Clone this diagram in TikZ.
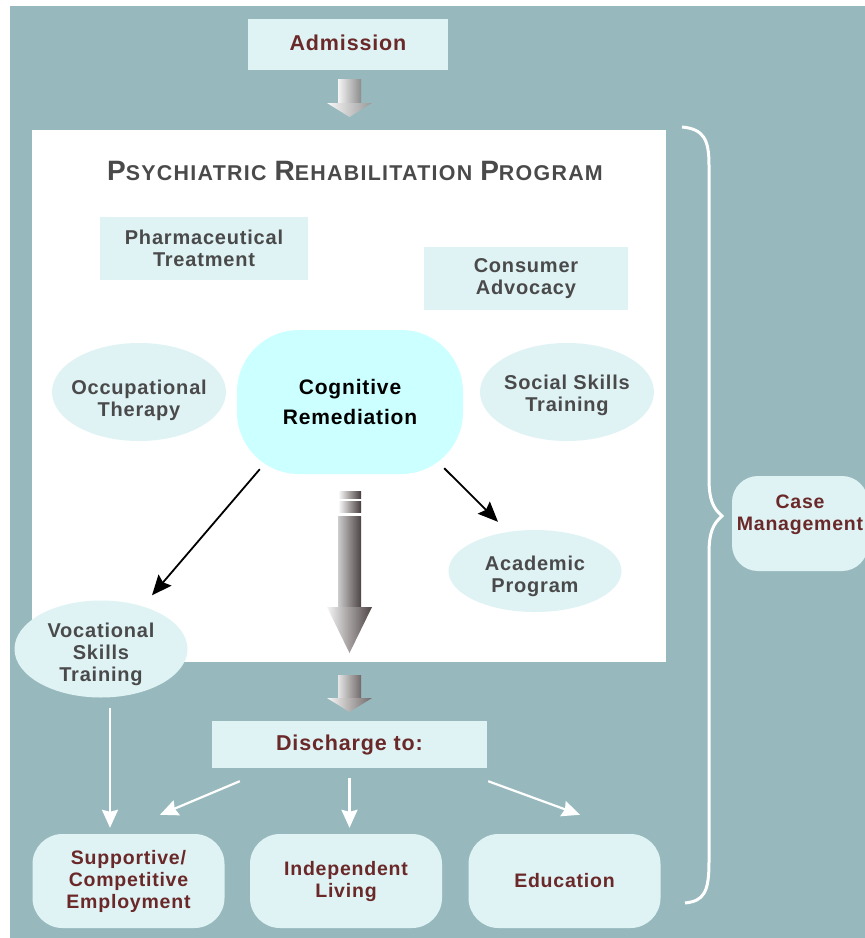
\documentclass[tikz,border=0pt]{standalone}
\usepackage{fontspec}
\setmainfont{Liberation Sans}
\newfontfamily\labfont[LetterSpace=4]{Liberation Sans}
\newfontfamily\titlefont[LetterSpace=6]{Liberation Sans}
\usetikzlibrary{shapes.geometric,arrows.meta}
\definecolor{bgteal}{HTML}{97B9BD}
\definecolor{paleblue}{HTML}{DFF2F4}
\definecolor{cogcyan}{HTML}{CCFFFF}
\definecolor{darkmaroon}{HTML}{6A2828}
\definecolor{labgray}{HTML}{4A4A4A}
\definecolor{arrdark}{HTML}{4E4444}
\newcommand\scword[2]{{\fontsize{28}{30}\selectfont#1}{\fontsize{21.4}{30}\selectfont#2}}
\tikzset{
  box/.style={fill=paleblue,inner sep=0pt,align=center,text=labgray,font=\labfont\bfseries\fontsize{20}{22}\selectfont},
  redtext/.style={text=darkmaroon,font=\labfont\bfseries\fontsize{21.5}{22}\selectfont},
  oval/.style={ellipse,fill=paleblue,inner sep=0pt},
  lab/.style={align=center,yshift=-5pt,text=labgray,font=\labfont\bfseries\fontsize{20}{22}\selectfont},
  rbox/.style={box,redtext,rounded corners=30pt,minimum width=192pt,minimum height=94pt,font=\labfont\bfseries\fontsize{19.5}{22}\selectfont},
  blk/.style={-{Stealth[length=20pt,width=17pt,inset=3pt]},line width=1.8pt},
  wht/.style={white,-{Stealth[length=18pt,width=16pt,inset=2pt]},line width=2.2pt},
}
\begin{document}
\begin{tikzpicture}[x=1pt,y=-1pt]
\useasboundingbox (0,0) rectangle (865,938);
\fill[bgteal] (10,6) rectangle (865,938);
\fill[white] (32,130) rectangle (666,662);
%
\node[box,redtext,minimum width=200pt,minimum height=51pt] (adm) at (348,44.5) {\raisebox{3pt}{Admission}};
\node[text=labgray,font=\titlefont\bfseries] (title) at (355,171) {\scword{P}{SYCHIATRIC}\hspace{8pt}\scword{R}{EHABILITATION}\hspace{8pt}\scword{P}{ROGRAM}};
\node[box,minimum width=208pt,minimum height=63pt] (pharm) at (204,248.5) {Pharmaceutical\\Treatment};
\node[box,minimum width=204pt,minimum height=63pt] (cons) at (526,278.5) {Consumer\\Advocacy};
\node[oval,minimum width=174pt,minimum height=98pt,label={[lab,yshift=-3pt]center:Occupational\\Therapy}] (occ) at (139,392) {};
\node[fill=cogcyan,rounded corners=62pt,minimum width=226pt,minimum height=144pt,align=center,font=\labfont\bfseries\fontsize{21}{30}\selectfont] (cog) at (350,402) {Cognitive\\Remediation};
\node[oval,minimum width=174pt,minimum height=98pt,label={[lab,yshift=2pt]center:Social Skills\\Training}] (soc) at (567,392) {};
\node[oval,minimum width=173pt,minimum height=82pt,label={[lab]center:Academic\\Program}] (acad) at (535,571) {};
\node[oval,minimum width=173pt,minimum height=97pt,label={[lab]center:Vocational\\Skills\\Training}] (voc) at (101,649) {};
%
\node[box,redtext,minimum width=275pt,minimum height=47pt] (dis) at (349.5,744.5) {Discharge to:};
\node[rbox] (sup) at (128.5,881) {Supportive/\\Competitive\\Employment};
\node[rbox] (ind) at (346,881) {Independent\\Living};
\node[rbox] (edu) at (564.5,881) {Education};
\node[box,rounded corners=26pt,minimum width=136pt,minimum height=95pt,label={[redtext,align=center,yshift=9pt,font=\labfont\bfseries\fontsize{19.5}{22}\selectfont]center:Case\\Management}] (case) at (800,523.5) {};
%
\shade[left color=gray!8,right color=gray!90] (338,79) rectangle (361,103);
\shade[left color=gray!5,right color=gray!80] (327,103) -- (372,103) -- (349.5,117) -- cycle;
\shade[left color=white,right color=arrdark!90!black] (338,491) rectangle (361,498);
\shade[left color=white,right color=arrdark!90!black] (338,501) rectangle (361,512);
\shade[left color=gray!40,right color=arrdark] (338,516) rectangle (361,607);
\shade[left color=gray!8,right color=arrdark] (327,607) -- (372,607) -- (349.5,653) -- cycle;
\shade[left color=gray!20,right color=arrdark!80] (338,675) rectangle (361,698);
\shade[left color=gray!5,right color=arrdark!80] (327,698) -- (372,698) -- (349.5,712) -- cycle;
%
\draw[blk] ([shift={(23,-5)}]cog.south west) -- ([shift={(51,-5)}]voc.north);
\draw[blk] ([shift={(-19,-6)}]cog.south east) -- ([shift={(-37,-8)}]acad.north);
\draw[wht] ([shift={(9,10)}]voc.south) -- ([shift={(-18.5,-6)}]sup.north);
\draw[wht] ([shift={(28,13)}]dis.south west) -- ([shift={(31.5,-19)}]sup.north);
\draw[wht] ([shift={(0,10)}]dis.south) -- ([shift={(3.5,-6)}]ind.north);
\draw[wht] ([shift={(1,13)}]dis.south east) -- ([shift={(15.5,-19)}]edu.north);
%
\draw[white,line width=3pt] (682,127) .. controls (704,129) and (709,140) .. (709,165) -- (709,478) .. controls (709,500) and (713,508) .. (722,516) .. controls (713,524) and (709,532) .. (709,554) -- (709,862) .. controls (709,892) and (704,901) .. (685,903);
\end{tikzpicture}
\end{document}
